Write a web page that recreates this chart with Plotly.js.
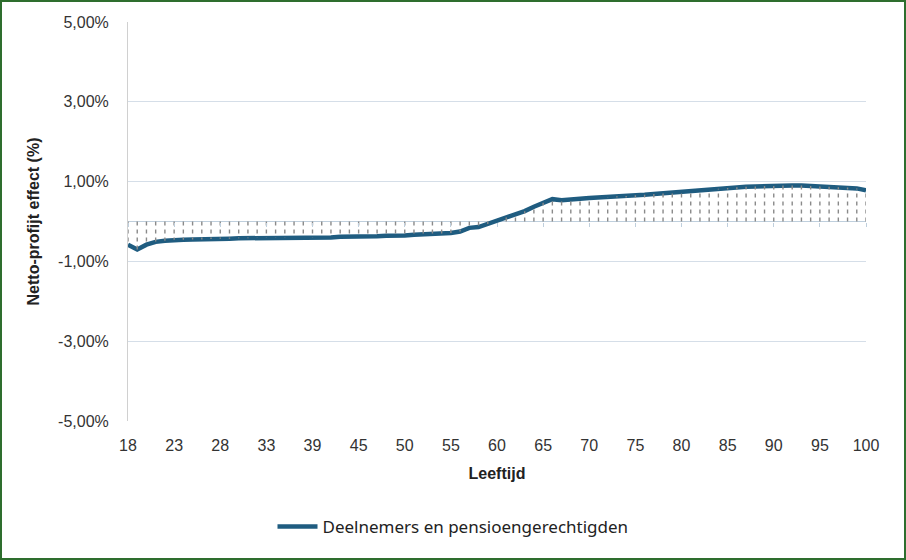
<!DOCTYPE html>
<html>
<head>
<meta charset="utf-8">
<script src="https://cdn.plot.ly/plotly-3.0.1.min.js"></script>
<style>
  html, body { margin: 0; padding: 0; background: #fff; }
  #wrap { position: relative; width: 906px; height: 560px; }
  #chart { width: 906px; height: 560px; }
  #frame { position: absolute; left: 0; top: 0; width: 906px; height: 560px; box-sizing: border-box; border: 2px solid #2E6E2E; pointer-events: none; }
</style>
</head>
<body>
<div id="wrap"><div id="chart"></div><div id="frame"></div></div>
<script>
// Data
const ages = [18,19,20,21,22,23,24,25,26,27,28,29,30,31,32,33,34,35,37,38,39,40,41,
  43,44,45,46,47,48,49,50,51,52,53,54,55,56,57,58,59,60,61,62,63,64,65,66,67,68,69,70,
  71,72,73,74,75,76,77,78,79,80,81,82,83,84,85,86,87,88,89,90,91,92,93,94,95,96,97,98,99,100];
const effect = [-0.58,-0.70,-0.58,-0.51,-0.48,-0.46,-0.46,-0.45,-0.45,-0.44,-0.43,-0.43,-0.42,-0.42,-0.41,-0.41,-0.41,-0.41,-0.40,-0.40,-0.41,-0.40,-0.40,
  -0.38,-0.38,-0.39,-0.38,-0.37,-0.36,-0.36,-0.35,-0.33,-0.32,-0.31,-0.30,-0.29,-0.25,-0.16,-0.14,-0.06,0.00,
  0.10,0.16,0.26,0.37,0.47,0.56,0.53,0.56,0.57,0.59,
  0.60,0.61,0.63,0.64,0.66,0.67,0.69,0.71,0.73,0.75,0.77,0.78,0.80,0.82,0.84,0.86,0.87,0.88,0.89,0.89,
  0.90,0.90,0.90,0.89,0.88,0.87,0.86,0.85,0.83,0.78];
const xTickLabels = ['18','23','28','33','39','45','50','55','60','65','70','75','80','85','90','95','100'];
const yTickVals = [-5,-3,-1,1,3,5];
const yTickText = ['-5,00%','-3,00%','-1,00%','1,00%','3,00%','5,00%'];
const seriesName = 'Deelnemers en pensioengerechtigden';

const cats = ages.map(String);
const dropX = [], dropY = [];
cats.forEach((c, i) => { dropX.push(c, c, null); dropY.push(0, effect[i], null); });

const traces = [
  { x: dropX, y: dropY, xaxis: 'x2', yaxis: 'y', mode: 'lines', showlegend: false, hoverinfo: 'skip',
    line: { color: '#8A8A8A', width: 1.4, dash: '4px,4px' } },
  { x: cats, y: effect, mode: 'lines', name: seriesName,
    line: { color: '#1F5C80', width: 4.5 } }
];

const axisFont = { family: 'Liberation Sans, Arial, sans-serif', size: 16, color: '#333333' };
const layout = {
  width: 906, height: 560,
  margin: { l: 128, r: 40, t: 22, b: 139 },
  paper_bgcolor: '#ffffff', plot_bgcolor: '#ffffff',
  font: axisFont,
  xaxis: {
    type: 'category', categoryorder: 'array', categoryarray: cats,
    range: [0, cats.length - 1],
    tickvals: xTickLabels, ticktext: xTickLabels,
    ticks: 'outside', ticklen: 10, tickcolor: 'rgba(0,0,0,0)',
    showgrid: false, zeroline: false, showline: false,
    tickfont: axisFont,
    title: { text: '<b>Leeftijd</b>', font: { family: 'Liberation Sans, Arial, sans-serif', size: 16, color: '#222' }, standoff: 14 }
  },
  xaxis2: {
    type: 'category', categoryorder: 'array', categoryarray: cats,
    matches: 'x', overlaying: 'x', anchor: 'free', position: 0.5,
    tickvals: xTickLabels, ticks: 'outside', ticklen: 4, tickcolor: '#BFCFDD', tickwidth: 1,
    showticklabels: false, showgrid: false, zeroline: false, showline: false
  },
  yaxis: {
    range: [-5, 5], tickvals: yTickVals, ticktext: yTickText,
    showgrid: true, gridcolor: '#D5DEE8', gridwidth: 1,
    zeroline: true, zerolinecolor: '#BFCFDD', zerolinewidth: 1,
    showline: true, linecolor: '#D0D0D0', linewidth: 1,
    ticks: 'outside', ticklen: 15, tickcolor: 'rgba(0,0,0,0)',
    tickfont: axisFont,
    title: { text: '<b>Netto-profijt effect (%)</b>', font: { family: 'Liberation Sans, Arial, sans-serif', size: 16, color: '#222' }, standoff: 14 }
  },
  showlegend: true,
  legend: {
    orientation: 'h', xref: 'container', yref: 'container',
    x: 0.5, xanchor: 'center', y: 0.059, yanchor: 'middle',
    font: { family: 'Noto Sans, sans-serif', size: 17, color: '#222' },
    itemwidth: 40
  }
};

Plotly.newPlot('chart', traces, layout, { displayModeBar: false, staticPlot: true });
</script>
</body>
</html>
